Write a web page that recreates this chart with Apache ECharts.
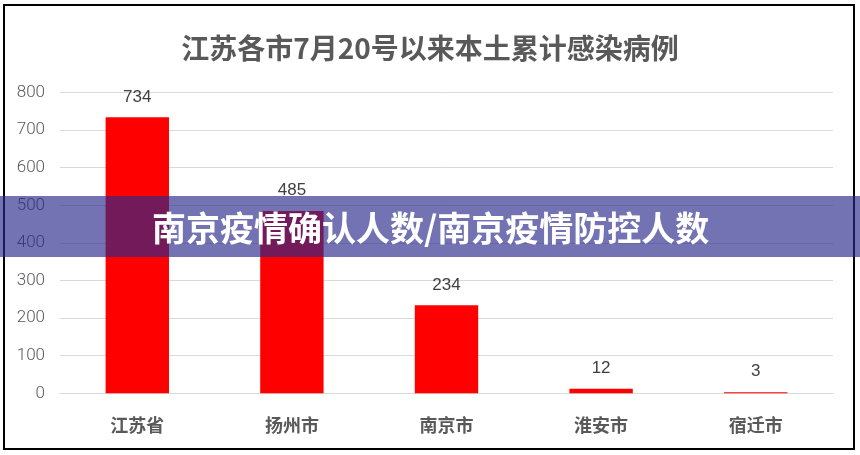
<!DOCTYPE html>
<html>
<head>
<meta charset="utf-8">
<script src="https://cdn.jsdelivr.net/npm/echarts@6/dist/echarts.min.js"></script>
<style>
  html, body { margin: 0; padding: 0; background: #fff; }
  #main { width: 860px; height: 455px; }
</style>
</head>
<body>
<div id="main"></div>
<script>
const cities = ['江苏省', '扬州市', '南京市', '淮安市', '宿迁市'];
const cases = [734, 485, 234, 12, 3];
const titleText = '江苏各市7月20号以来本土累计感染病例';
const bannerText = '南京疫情确认人数/南京疫情防控人数';

const chart = echarts.init(document.getElementById('main'));

chart.setOption({
    backgroundColor: '#fff',
    animation: false,
    title: {
        text: titleText, left: 'center', top: 29,
        textStyle: { color: '#595959', fontSize: 28, fontWeight: 'bold', fontFamily: 'Noto Sans CJK SC' }
    },
    grid: { left: 60, right: 27, top: 92.5, bottom: 61.7 },
    xAxis: {
        type: 'category', data: cities,
        axisLine: { lineStyle: { color: '#d9d9d9' } },
        axisTick: { show: false },
        axisLabel: { color: '#595959', fontSize: 18, fontWeight: 'bold', margin: 23, fontFamily: 'Noto Sans CJK SC' }
    },
    yAxis: {
        type: 'value', min: 0, max: 800, interval: 100,
        axisLine: { show: false }, axisTick: { show: false },
        splitLine: { lineStyle: { color: '#d9d9d9', width: 1 } },
        axisLabel: { color: '#595959', fontSize: 17, margin: 15, fontFamily: 'Roboto', fontWeight: 300 }
    },
    series: [{
        type: 'bar', data: cases, barWidth: '41%',
        itemStyle: { color: '#ff0000' },
        label: { show: true, position: 'top', distance: 12, color: '#404040', fontSize: 17, fontFamily: 'Liberation Sans' }
    }],
    graphic: [
        { type: 'rect', z: 100, shape: { x: 4, y: 5, width: 850, height: 444 },
          style: { fill: 'none', stroke: '#000', lineWidth: 2 } },
        { type: 'rect', z: 110, shape: { x: 0, y: 196, width: 860, height: 61 },
          style: { fill: 'rgba(40,40,140,0.65)' } },
        { type: 'text', z: 120, x: 152, y: 228,
          style: { text: bannerText, fill: '#fff', font: 'bold 34px "Noto Sans CJK SC"', verticalAlign: 'middle' } }
    ]
});

window.onresize = () => chart.resize();
</script>
</body>
</html>
